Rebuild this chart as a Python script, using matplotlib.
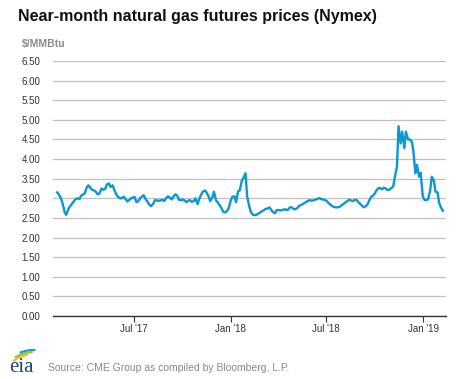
import numpy as np
import pandas as pd
import matplotlib
matplotlib.use('Agg')
import matplotlib.pyplot as plt
from matplotlib.patches import Arc

# near-month prices, $/MMBtu (Monday and Thursday readings)
mon_dates = pd.date_range('2017-02-06', periods=105, freq='W-MON')
mon_prices = [
    3.15, 3.00, 2.65, 2.72, 2.86, 2.98, 2.98, 3.10, 3.28, 3.26,
    3.20, 3.10, 3.25, 3.24, 3.38, 3.33, 3.10, 3.00, 3.04, 2.92,
    3.00, 3.03, 2.93, 3.05, 2.97, 2.83, 2.86, 2.95, 2.95, 2.93,
    3.05, 2.97, 3.10, 2.96, 2.97, 2.90, 2.95, 2.93, 2.85, 3.10,
    3.20, 3.05, 3.02, 2.95, 2.82, 2.65, 2.68, 2.95, 3.05, 3.18,
    3.45, 3.64, 2.80, 2.58, 2.58, 2.64, 2.70, 2.74, 2.70, 2.62,
    2.70, 2.70, 2.71, 2.77, 2.73, 2.75, 2.83, 2.88, 2.94, 2.94,
    2.97, 3.01, 2.97, 2.93, 2.84, 2.78, 2.77, 2.82, 2.89, 2.96,
    2.93, 2.96, 2.86, 2.77, 2.84, 3.04, 3.12, 3.26, 3.23, 3.25,
    3.22, 3.30, 3.80, 4.40, 4.28, 4.50, 4.45, 3.64, 3.55, 3.05,
    2.96, 3.20, 3.45, 3.15, 2.75,
]
thu_dates = pd.date_range('2017-02-09', periods=105, freq='W-THU')
thu_prices = [
    3.10, 2.88, 2.58, 2.79, 2.92, 3.00, 3.06, 3.12, 3.33, 3.22,
    3.17, 3.12, 3.22, 3.35, 3.29, 3.22, 3.04, 3.00, 2.99, 2.95,
    3.02, 2.90, 3.00, 3.08, 2.92, 2.80, 2.95, 2.93, 2.96, 3.00,
    3.02, 3.04, 3.08, 2.95, 2.95, 2.94, 2.91, 3.00, 2.98, 3.17,
    3.15, 2.93, 3.17, 2.90, 2.76, 2.64, 2.75, 3.04, 2.90, 3.20,
    3.52, 3.05, 2.65, 2.57, 2.61, 2.67, 2.73, 2.77, 2.65, 2.70,
    2.69, 2.72, 2.70, 2.77, 2.72, 2.80, 2.85, 2.91, 2.95, 2.95,
    2.98, 2.98, 2.96, 2.88, 2.80, 2.77, 2.78, 2.85, 2.92, 2.95,
    2.95, 2.92, 2.82, 2.79, 2.93, 3.06, 3.20, 3.26, 3.27, 3.21,
    3.26, 3.55, 4.84, 4.70, 4.70, 4.50, 4.23, 3.85, 3.65, 2.96,
    2.97, 3.55, 3.17, 2.88, 2.68,
]

xticks = pd.to_datetime(['2017-07-01', '2018-01-01', '2018-07-01', '2019-01-01'])
xtick_labels = ["Jul '17", "Jan '18", "Jul '18", "Jan '19"]
yticks = np.arange(0, 6.51, 0.5)

series = pd.Series(mon_prices + thu_prices, index=mon_dates.append(thu_dates)).sort_index()

plt.rcParams['font.family'] = ['Liberation Sans', 'DejaVu Sans']

W, H = 477, 379
fig = plt.figure(figsize=(W / 100, H / 100), dpi=100)
ax = fig.add_axes([53 / W, 1 - 316 / H, (446 - 53) / W, (316 - 61) / H])

ax.plot(series.index, series.values, color='#0a97d4', linewidth=1.7,
        solid_joinstyle='round')

ax.set_ylim(0, 6.5)
ax.set_xlim(pd.Timestamp('2017-01-29'), pd.Timestamp('2019-02-13'))
ax.set_yticks(yticks)
ax.set_yticklabels([f'{v:.2f}' for v in yticks])
ax.set_xticks(xticks)
ax.set_xticklabels(xtick_labels)

ax.grid(axis='y', color='#c0c0c0', linewidth=0.9)
ax.set_axisbelow(True)
for s in ['top', 'right', 'left']:
    ax.spines[s].set_visible(False)
ax.spines['bottom'].set_color('#333333')
ax.spines['bottom'].set_linewidth(1.0)
ax.tick_params(axis='y', length=0, pad=9, labelsize=7, labelcolor='#333333')
ax.tick_params(axis='x', length=4, width=0.8, color='#333333', pad=2,
               labelsize=7, labelcolor='#333333')

fig.text(18 / W, 1 - 17 / H, 'Near-month natural gas futures prices (Nymex)',
         fontsize=11.5, fontweight='bold', color='#111111', va='center')
fig.text(22 / W, 1 - 44 / H, '$/MMBtu', fontsize=7.5, fontweight='bold',
         color='#8a8a8a', va='center')
fig.text(48 / W, 1 - 368 / H, 'Source: CME Group as compiled by Bloomberg, L.P.',
         fontsize=7.5, color='#8a8a8a', va='center')

# eia logo, drawn in pixel units (y measured up from the bottom edge)
lax = fig.add_axes([0, 0, 60 / W, 40 / H])
lax.set_xlim(0, 60)
lax.set_ylim(0, 40)
lax.axis('off')
lax.text(21, 12, 'eia', fontsize=15, family='Liberation Serif',
         color='#1d4370', ha='center', va='center')
for c, r, t1, t2 in [('#0a97d4', 38, 88, 112), ('#8cc63e', 36, 92, 122),
                     ('#f2b51c', 34, 100, 128)]:
    lax.add_patch(Arc((34, -9), 2 * r, 2 * r, theta1=t1, theta2=t2,
                      color=c, linewidth=1.5))

fig.savefig('out.png', dpi=100)
